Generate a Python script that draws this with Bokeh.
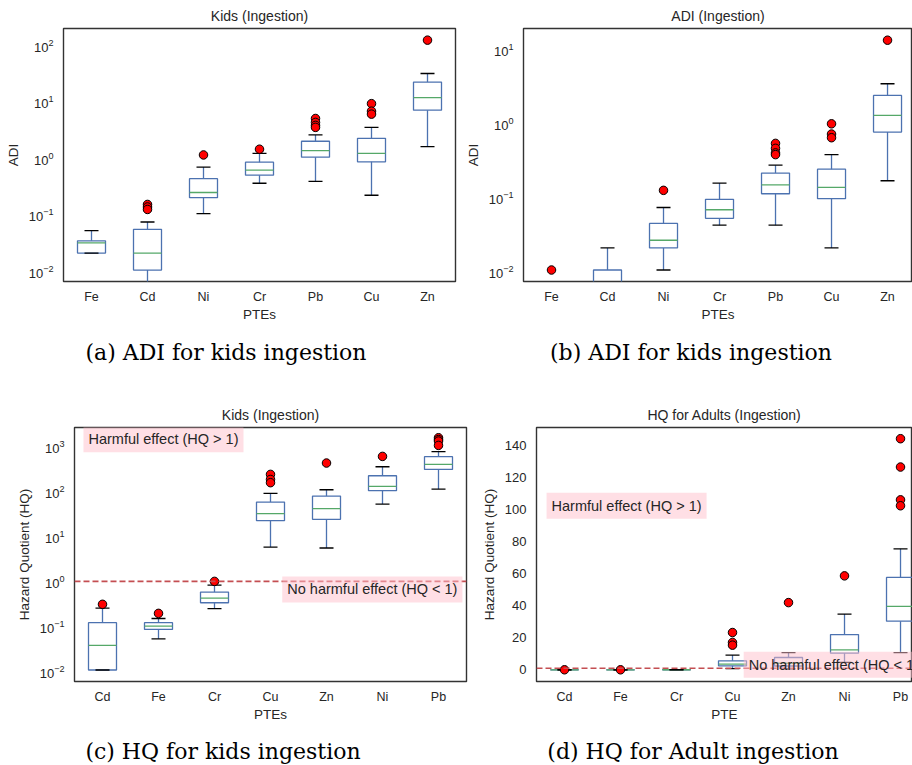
from bokeh.plotting import figure
from bokeh.models import ColumnDataSource, Range1d, FixedTicker, Span, Label, Div
from bokeh.layouts import column, row
from bokeh.transform import dodge
from bokeh.embed import file_html
from bokeh.resources import INLINE

# ---------------- data ----------------
# (a) ADI, kids ingestion
a_cats = ["Fe", "Cd", "Ni", "Cr", "Pb", "Cu", "Zn"]
a_q1 = [0.021, 0.0105, 0.20, 0.50, 1.04, 0.86, 7.05]
a_med = [0.0318, 0.021, 0.247, 0.616, 1.36, 1.22, 11.75]
a_q3 = [0.0345, 0.0553, 0.434, 0.85, 1.99, 2.24, 22.1]
a_wlo = [0.021, 0.005, 0.105, 0.36, 0.39, 0.221, 1.6]
a_whi = [0.0524, 0.0743, 0.695, 1.22, 2.57, 3.5, 31.4]
a_out_cat = ["Cd", "Cd", "Cd", "Ni", "Cr", "Pb", "Pb", "Pb", "Pb", "Cu", "Cu", "Cu", "Zn"]
a_out_val = [0.152, 0.137, 0.124, 1.14, 1.44, 5.03, 4.28, 3.8, 3.5, 9.2, 6.77, 6.0, 122]

# (b) ADI (Ingestion)
b_cats = ["Fe", "Cd", "Ni", "Cr", "Pb", "Cu", "Zn"]
b_q1 = [0.003, 0.002, 0.0207, 0.052, 0.112, 0.096, 0.765]
b_med = [0.004, 0.003, 0.0263, 0.068, 0.148, 0.137, 1.29]
b_q3 = [0.0045, 0.0104, 0.0444, 0.094, 0.213, 0.241, 2.4]
b_wlo = [0.002, 0.001, 0.0104, 0.042, 0.042, 0.0207, 0.168]
b_whi = [0.005, 0.0207, 0.073, 0.156, 0.273, 0.379, 3.45]
b_out_cat = ["Fe", "Ni", "Pb", "Pb", "Pb", "Pb", "Cu", "Cu", "Cu", "Zn"]
b_out_val = [0.0104, 0.1245, 0.538, 0.461, 0.40, 0.379, 0.99, 0.719, 0.642, 13.4]

# (c) HQ, kids ingestion
c_cats = ["Cd", "Fe", "Cr", "Cu", "Zn", "Ni", "Pb"]
c_q1 = [0.0108, 0.086, 0.336, 22.2, 23.8, 103, 305]
c_med = [0.038, 0.102, 0.427, 31.8, 41, 128, 394]
c_q3 = [0.121, 0.121, 0.58, 57.6, 78, 221, 584]
c_wlo = [0.0108, 0.053, 0.248, 5.78, 5.5, 52, 112]
c_whi = [0.256, 0.15, 0.83, 89.7, 108, 350, 754]
c_out_cat = ["Cd", "Fe", "Cr", "Cu", "Cu", "Cu", "Zn", "Ni", "Pb", "Pb", "Pb", "Pb"]
c_out_val = [0.31, 0.195, 1.0, 237, 183, 155, 423, 594, 1542, 1400, 1300, 1042]

# (d) HQ, adult ingestion
d_cats = ["Cd", "Fe", "Cr", "Cu", "Zn", "Ni", "Pb"]
d_q1 = [0.001, 0.009, 0.034, 2.5, 2.4, 10.4, 30.4]
d_med = [0.004, 0.010, 0.043, 3.5, 4.1, 12.5, 39.6]
d_q3 = [0.012, 0.012, 0.058, 5.6, 7.7, 22.0, 57.7]
d_wlo = [0.001, 0.005, 0.025, 0.8, 0.55, 4.6, 10.8]
d_whi = [0.026, 0.015, 0.083, 9.2, 10.8, 34.8, 75.6]
d_out_cat = ["Cd", "Fe", "Cu", "Cu", "Cu", "Zn", "Ni", "Pb", "Pb", "Pb", "Pb"]
d_out_val = [0.031, 0.02, 23.3, 17.1, 15.4, 42, 58.7, 144.4, 126.7, 106.2, 102.5]

log_ticks = [0.01, 0.1, 1, 10, 100, 1000]
lin_ticks = [0, 20, 40, 60, 80, 100, 120, 140]

BLUE = "#4C72B0"
GREEN = "#55A868"
TXT = "#262626"
SANS = "Liberation Sans"


def panel(cats, q1, med, q3, wlo, whi, out_cat, out_val, title, xlabel, ylabel,
          log, y0, y1, x1, width, height, bl, br, bt, bb, yticks, title_offset=0):
    p = figure(width=width, height=height, output_backend="svg", toolbar_location=None,
               y_axis_type="log" if log else "linear",
               x_range=Range1d(0.5, x1), y_range=Range1d(y0, y1),
               min_border_left=bl, min_border_right=br, min_border_top=bt, min_border_bottom=bb,
               background_fill_color="white", border_fill_color="white", margin=0)
    xs = list(range(1, len(cats) + 1))
    src = ColumnDataSource(dict(x=xs, q1=q1, med=med, q3=q3, wlo=wlo, whi=whi))
    p.segment(x0="x", y0="wlo", x1="x", y1="q1", source=src, line_color=BLUE, line_width=1.3)
    p.segment(x0="x", y0="q3", x1="x", y1="whi", source=src, line_color=BLUE, line_width=1.3)
    p.quad(left=dodge("x", -0.25), right=dodge("x", 0.25), bottom="q1", top="q3", source=src,
           fill_color=None, line_color=BLUE, line_width=1.3)
    p.segment(x0=dodge("x", -0.25), x1=dodge("x", 0.25), y0="med", y1="med", source=src,
              line_color=GREEN, line_width=1.3)
    p.segment(x0=dodge("x", -0.125), x1=dodge("x", 0.125), y0="wlo", y1="wlo", source=src,
              line_color="black", line_width=1.3)
    p.segment(x0=dodge("x", -0.125), x1=dodge("x", 0.125), y0="whi", y1="whi", source=src,
              line_color="black", line_width=1.3)
    osrc = ColumnDataSource(dict(x=[cats.index(c) + 1 for c in out_cat], y=out_val))
    p.scatter(x="x", y="y", source=osrc, size=8.5, fill_color="red", line_color="black", line_width=1)

    p.title.text = title
    p.title.align = "center"
    p.title.text_font = SANS
    p.title.text_font_size = "14px"
    p.title.text_font_style = "normal"
    p.title.text_color = TXT
    p.title.offset = title_offset

    p.xgrid.visible = False
    p.ygrid.visible = False
    p.outline_line_color = "#333333"
    p.outline_line_width = 1.4

    p.xaxis.ticker = FixedTicker(ticks=xs, minor_ticks=[])
    p.xaxis.major_label_overrides = {x: c for x, c in zip(xs, cats)}
    p.yaxis.ticker = FixedTicker(ticks=yticks, minor_ticks=[])
    for ax, st, fs in ((p.xaxis, 8, "12.5px"), (p.yaxis, 10, "13px")):
        ax.axis_line_color = None
        ax.major_tick_line_color = None
        ax.minor_tick_line_color = None
        ax.major_tick_in = 0
        ax.major_tick_out = 0
        ax.minor_tick_in = 0
        ax.minor_tick_out = 0
        ax.major_label_standoff = st
        ax.major_label_text_font = SANS
        ax.major_label_text_font_size = fs
        ax.major_label_text_color = TXT
        ax.axis_label_text_font = SANS
        ax.axis_label_text_font_size = "13.5px"
        ax.axis_label_text_font_style = "normal"
        ax.axis_label_text_color = TXT
    p.xaxis.axis_label = xlabel
    p.xaxis.axis_label_standoff = 0
    p.yaxis.axis_label = ylabel
    p.yaxis.axis_label_standoff = 5
    return p


pa = panel(a_cats, a_q1, a_med, a_q3, a_wlo, a_whi, a_out_cat, a_out_val,
           "Kids (Ingestion)", "PTEs", "ADI", True, 0.0066, 196, 7.5,
           460, 325, 63, 5, 26, 44, log_ticks)
pb = panel(b_cats, b_q1, b_med, b_q3, b_wlo, b_whi, b_out_cat, b_out_val,
           "ADI (Ingestion)", "PTEs", "ADI", True, 0.00727, 19.3, 7.446,
           452, 325, 63, 0, 26, 44, log_ticks, title_offset=2)
pc = panel(c_cats, c_q1, c_med, c_q3, c_wlo, c_whi, c_out_cat, c_out_val,
           "Kids (Ingestion)", "PTEs", "Hazard Quotient (HQ)", True, 0.006, 2600, 7.5,
           470, 330, 74, 4, 32, 44, log_ticks)
pd_ = panel(d_cats, d_q1, d_med, d_q3, d_wlo, d_whi, d_out_cat, d_out_val,
            "HQ for Adults (Ingestion)", "PTE", "Hazard Quotient (HQ)", False, -7.3, 151.4, 7.214,
            442, 330, 66, 0, 32, 44, lin_ticks, title_offset=8)

# threshold lines and annotations
for p, hx, hy, nx, ny in ((pc, 0.66, 1430, 4.21, 0.664), (pd_, 0.68, 102.5, 4.20, 3.1)):
    p.add_layout(Span(location=1, dimension="width", line_color="#C44E52",
                      line_width=1.6, line_dash="6 3"))
    for x, y, t in ((hx, hy, "Harmful effect (HQ > 1)"), (nx, ny, "No harmful effect (HQ < 1)")):
        p.add_layout(Label(x=x, y=y, text=t, text_font=SANS, text_font_size="14.5px",
                           text_color=TXT, text_baseline="middle", text_align="left",
                           background_fill_color="pink", background_fill_alpha=0.5,
                           padding=5))


def caption(text, width, height, pad, shift):
    html = ('<div style="font-family:\'DejaVu Serif\';font-size:22px;line-height:22px;'
            f'padding-top:{pad}px;text-align:center;position:relative;left:{shift}px;'
            f'width:{width}px;color:#000;white-space:nowrap">{text}</div>')
    return Div(text=html, width=width, height=height, margin=0)


cap_a = caption("(a) ADI for kids ingestion", 460, 70, 17, -4)
cap_b = caption("(b) ADI for kids ingestion", 452, 70, 17, 5)
cap_c = caption("(c) HQ for kids ingestion", 470, 40, 16, -12)
cap_d = caption("(d) HQ for Adult ingestion", 442, 40, 16, 2)

layout = column(row(pa, pb, margin=0), row(cap_a, cap_b, margin=0),
                row(pc, pd_, margin=0), row(cap_c, cap_d, margin=0), margin=0)

open("out.html", "w").write(file_html(layout, INLINE))
